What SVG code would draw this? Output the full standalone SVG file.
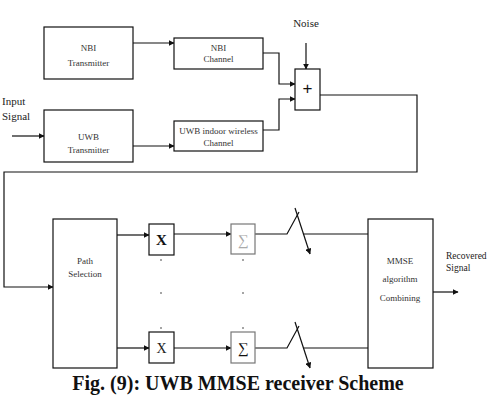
<svg xmlns="http://www.w3.org/2000/svg" width="491" height="400" viewBox="0 0 491 400">
<style>
.box{fill:#fff;stroke:#111;stroke-width:1.2}
.gbox{fill:#fff;stroke:#777;stroke-width:1.2}
.ln{fill:none;stroke:#111;stroke-width:1.2}
.t{font-family:"Liberation Serif",serif;font-size:9px;fill:#333;text-anchor:middle}
.lab{font-family:"Liberation Serif",serif;font-size:11px;fill:#222}
.lab2{font-family:"Liberation Serif",serif;font-size:9.5px;fill:#222}
.dot{fill:#333}
</style>
<defs>
<marker id="ah" viewBox="0 0 10 10" refX="9" refY="5" markerWidth="6" markerHeight="6" orient="auto" markerUnits="userSpaceOnUse">
<path d="M0,0 L10,5 L0,10 z" fill="#111"/>
</marker>
</defs>
<rect width="491" height="400" fill="#fff"/>

<g id="connectors">
<line class="ln" x1="133" y1="43" x2="174" y2="43" marker-end="url(#ah)"/>
<line class="ln" x1="12" y1="136" x2="44" y2="136" marker-end="url(#ah)"/>
<line class="ln" x1="133" y1="146" x2="174" y2="146" marker-end="url(#ah)"/>
<polyline class="ln" points="263,53 279,53 279,84 295,84" marker-end="url(#ah)"/>
<polyline class="ln" points="263,130 279,130 279,99 295,99" marker-end="url(#ah)"/>
<line class="ln" x1="306" y1="43" x2="306" y2="69" marker-end="url(#ah)"/>
<polyline class="ln" points="320,95 417,95 417,172 4,172 4,287 53,287" marker-end="url(#ah)"/>
<line class="ln" x1="117" y1="235" x2="149" y2="235" marker-end="url(#ah)"/>
<line class="ln" x1="117" y1="348" x2="149" y2="348" marker-end="url(#ah)"/>
<line class="ln" x1="174" y1="234" x2="231" y2="234" marker-end="url(#ah)"/>
<line class="ln" x1="174" y1="348" x2="231" y2="348" marker-end="url(#ah)"/>
<polyline class="ln" points="255,234 287,234 299,212"/>
<line class="ln" x1="304" y1="234" x2="368" y2="234"/>
<line class="ln" x1="295" y1="208" x2="310" y2="254" marker-end="url(#ah)"/>
<polyline class="ln" points="255,348 287,348 299,326"/>
<line class="ln" x1="304" y1="348" x2="368" y2="348"/>
<line class="ln" x1="295" y1="322" x2="310" y2="368" marker-end="url(#ah)"/>
<line class="ln" x1="433" y1="292" x2="458" y2="292" marker-end="url(#ah)"/>
</g>

<g id="nbi-tx"><rect class="box" x="44" y="27" width="89" height="52"/><text class="t" x="88.5" y="51">NBI</text><text class="t" x="88.5" y="66">Transmitter</text></g>
<g id="uwb-tx"><rect class="box" x="44" y="110" width="89" height="52"/><text class="t" x="88.5" y="140">UWB</text><text class="t" x="88.5" y="153">Transmitter</text></g>
<g id="nbi-ch"><rect class="box" x="174" y="38" width="89" height="31"/><text class="t" x="218.5" y="51">NBI</text><text class="t" x="218.5" y="62">Channel</text></g>
<g id="uwb-ch"><rect class="box" x="174" y="121" width="89" height="30"/><text class="t" x="218.5" y="134">UWB indoor wireless</text><text class="t" x="218.5" y="146">Channel</text></g>
<g id="adder"><rect class="box" x="295" y="69" width="25" height="41"/><text x="307.5" y="94" font-family="Liberation Sans,sans-serif" font-size="17" text-anchor="middle" fill="#111">+</text></g>
<g id="noise"><text class="lab" x="306" y="27" text-anchor="middle">Noise</text></g>
<g id="input"><text class="lab" x="2" y="105">Input</text><text class="lab" x="2" y="120">Signal</text></g>

<g id="path-sel"><rect class="box" x="53" y="219" width="64" height="149"/><text class="t" x="85" y="264">Path</text><text class="t" x="85" y="277">Selection</text></g>
<g id="mult1"><rect class="box" x="149" y="224" width="25" height="31"/><text x="161.5" y="245" font-family="Liberation Serif,serif" font-size="15" font-weight="bold" text-anchor="middle" fill="#111">X</text></g>
<g id="mult2"><rect class="box" x="149" y="332" width="25" height="31"/><text x="161.5" y="353" font-family="Liberation Serif,serif" font-size="14" text-anchor="middle" fill="#222">X</text></g>
<g id="sum1"><rect class="gbox" x="231" y="224" width="24" height="30"/><text x="243" y="245" font-family="Liberation Serif,serif" font-size="15" text-anchor="middle" fill="#aaa">∑</text></g>
<g id="sum2"><rect class="gbox" x="231" y="332" width="24" height="31"/><text x="243" y="353" font-family="Liberation Serif,serif" font-size="15" text-anchor="middle" fill="#111">∑</text></g>
<g id="dots">
<circle class="dot" cx="161" cy="260" r="0.8"/><circle class="dot" cx="161" cy="293" r="0.8"/><circle class="dot" cx="161" cy="328" r="0.8"/>
<circle class="dot" cx="243" cy="260" r="0.8"/><circle class="dot" cx="243" cy="293" r="0.8"/><circle class="dot" cx="243" cy="328" r="0.8"/>
</g>
<g id="mmse"><rect class="box" x="368" y="219" width="65" height="149"/><text class="t" x="400" y="264">MMSE</text><text class="t" x="400" y="282">algorithm</text><text class="t" x="400" y="301">Combining</text></g>
<g id="output"><text class="lab2" x="446" y="259">Recovered</text><text class="lab2" x="446" y="271">Signal</text></g>
<text x="238" y="390" font-family="Liberation Serif,serif" font-size="20" font-weight="bold" text-anchor="middle" fill="#111">Fig. (9): UWB MMSE receiver Scheme</text>
</svg>
